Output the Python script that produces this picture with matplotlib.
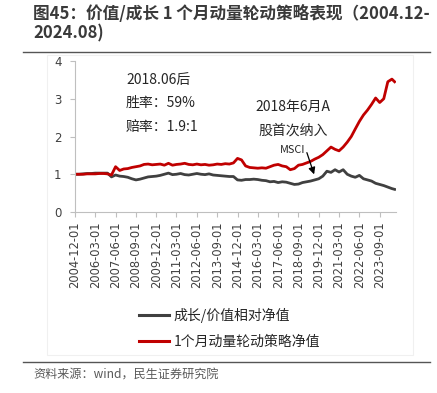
import matplotlib
matplotlib.use("Agg")
import matplotlib.pyplot as plt
import pandas as pd
from matplotlib.lines import Line2D

plt.rcParams['font.family'] = ['Noto Sans CJK SC', 'DejaVu Sans']

# ---- data (quarterly readings from the picture) ----
dates = list(pd.date_range('2004-12-01', '2024-06-01', freq='3MS')) + [pd.Timestamp('2024-08-01')]

strategy_nav = [1.00, 1.00, 1.00, 1.01, 1.01, 1.01, 1.02, 1.02, 1.01, 0.98,
                1.20, 1.10, 1.14, 1.15, 1.18, 1.20, 1.22, 1.26, 1.27, 1.25,
                1.26, 1.27, 1.24, 1.29, 1.24, 1.26, 1.27, 1.29, 1.26, 1.25,
                1.27, 1.25, 1.26, 1.24, 1.25, 1.27, 1.26, 1.28, 1.27, 1.30,
                1.42, 1.38, 1.22, 1.18, 1.17, 1.16, 1.17, 1.16, 1.20, 1.24,
                1.26, 1.22, 1.20, 1.12, 1.15, 1.24, 1.26, 1.30, 1.34, 1.40,
                1.45, 1.52, 1.62, 1.72, 1.66, 1.62, 1.72, 1.85, 2.00, 2.20,
                2.40, 2.57, 2.70, 2.85, 3.02, 2.90, 3.00, 3.45, 3.52, 3.45]

growth_value_nav = [1.00, 1.00, 1.01, 1.02, 1.02, 1.03, 1.03, 1.03, 1.03, 0.93,
                    0.98, 0.95, 0.94, 0.92, 0.88, 0.85, 0.87, 0.90, 0.93, 0.94,
                    0.95, 0.97, 1.00, 1.03, 0.99, 1.00, 1.02, 0.99, 0.98, 1.00,
                    1.02, 1.00, 0.99, 1.01, 0.98, 0.97, 0.96, 0.95, 0.94, 0.94,
                    0.85, 0.84, 0.86, 0.86, 0.87, 0.86, 0.84, 0.83, 0.80, 0.81,
                    0.78, 0.80, 0.79, 0.76, 0.73, 0.74, 0.78, 0.80, 0.82, 0.85,
                    0.88, 0.95, 1.08, 1.05, 1.12, 1.06, 1.12, 1.00, 0.95, 0.92,
                    0.97, 0.88, 0.85, 0.82, 0.76, 0.73, 0.70, 0.66, 0.62, 0.60]

tick_labels = ['2004-12-01', '2006-03-01', '2007-06-01', '2008-09-01', '2009-12-01',
               '2011-03-01', '2012-06-01', '2013-09-01', '2014-12-01', '2016-03-01',
               '2017-06-01', '2018-09-01', '2019-12-01', '2021-03-01', '2022-06-01',
               '2023-09-01']
y_ticks = [0, 1, 2, 3, 4]

series_names = ['成长/价值相对净值', '1个月动量轮动策略净值']

W, H = 437, 393
fig = plt.figure(figsize=(W / 100, H / 100), dpi=100)

def fx(px):
    return px / W

def fy(py):
    return 1 - py / H

GRAY = '#404040'
RED = '#c00000'
TXT = '#262626'

# faint panel frame
fig.patches.append(plt.Rectangle((fx(47), fy(355)), fx(413) - fx(47), fy(55) - fy(355),
                                 transform=fig.transFigure, fill=False,
                                 edgecolor='#f0f0f0', linewidth=0.8))

ax = fig.add_axes([fx(75), fy(212), fx(396) - fx(75), fy(61) - fy(212)])
ax.plot(dates, growth_value_nav, color=GRAY, lw=2.0)
ax.plot(dates, strategy_nav, color=RED, lw=2.0)

ax.set_ylim(0, 4)
ax.set_yticks(y_ticks)
ax.set_xlim(pd.Timestamp('2004-12-01'), pd.Timestamp('2024-09-01'))
ax.set_xticks([pd.Timestamp(t) for t in tick_labels])
ax.set_xticklabels(tick_labels, rotation=90, fontsize=8.3, color=GRAY,
                   family=['DejaVu Sans'])
ax.tick_params(axis='y', labelsize=8.5, labelcolor=GRAY, color='#bfbfbf',
               length=3.6, width=0.8, pad=6)
ax.tick_params(axis='x', length=3.6, width=0.8, color='#bfbfbf', pad=3.5)
for s in ['top', 'right']:
    ax.spines[s].set_visible(False)
for s in ['left', 'bottom']:
    ax.spines[s].set_color('#bfbfbf')
    ax.spines[s].set_linewidth(0.8)
for lab in ax.get_yticklabels():
    lab.set_family(['DejaVu Sans'])

# annotations
ax_txt = dict(fontsize=10, color=TXT)
fig.text(fx(126), fy(80), '2018.06后', va='center', ha='left', **ax_txt)
fig.text(fx(126), fy(103), '胜率：59%', va='center', ha='left', **ax_txt)
fig.text(fx(126), fy(127), '赔率：1.9:1', va='center', ha='left', **ax_txt)
fig.text(fx(293), fy(107), '2018年6月A', va='center', ha='center', **ax_txt)
fig.text(fx(293), fy(131), '股首次纳入', va='center', ha='center', **ax_txt)
fig.text(fx(293), fy(150), 'MSCI', va='center', ha='center', fontsize=7.8, color=TXT)
ax.annotate('', xy=(fx(315), fy(177)), xycoords='figure fraction',
            xytext=(fx(306), fy(150)), textcoords='figure fraction',
            arrowprops=dict(arrowstyle='-|>', color='black', lw=0.9,
                            mutation_scale=10))

# legend
handles = [Line2D([], [], color=GRAY, lw=2.2), Line2D([], [], color=RED, lw=2.2)]
leg = fig.legend(handles, series_names, loc='upper left',
                 bbox_to_anchor=(fx(133), fy(302)), frameon=False,
                 fontsize=10, handlelength=2.2, handletextpad=0.3,
                 labelspacing=0.85, borderaxespad=0, labelcolor=TXT)

# title
fig.text(fx(33), fy(14), '图45：价值/成长 1 个月动量轮动策略表现（2004.12-',
         fontsize=12, fontweight='bold', color='#3a3a3a', va='center', ha='left')
fig.text(fx(33), fy(33), '2024.08)', fontsize=12, fontweight='bold',
         color='#3a3a3a', va='center', ha='left')

# rules
fig.add_artist(Line2D([fx(23), fx(430)], [fy(52), fy(52)], color='#555555', lw=1.0))
fig.add_artist(Line2D([fx(23), fx(430)], [fy(362), fy(362)], color='#555555', lw=1.0))

fig.text(fx(33), fy(375), '资料来源：wind，民生证券研究院', fontsize=8.7, color='#595959',
         va='center', ha='left')

fig.savefig('out.png', dpi=100)
